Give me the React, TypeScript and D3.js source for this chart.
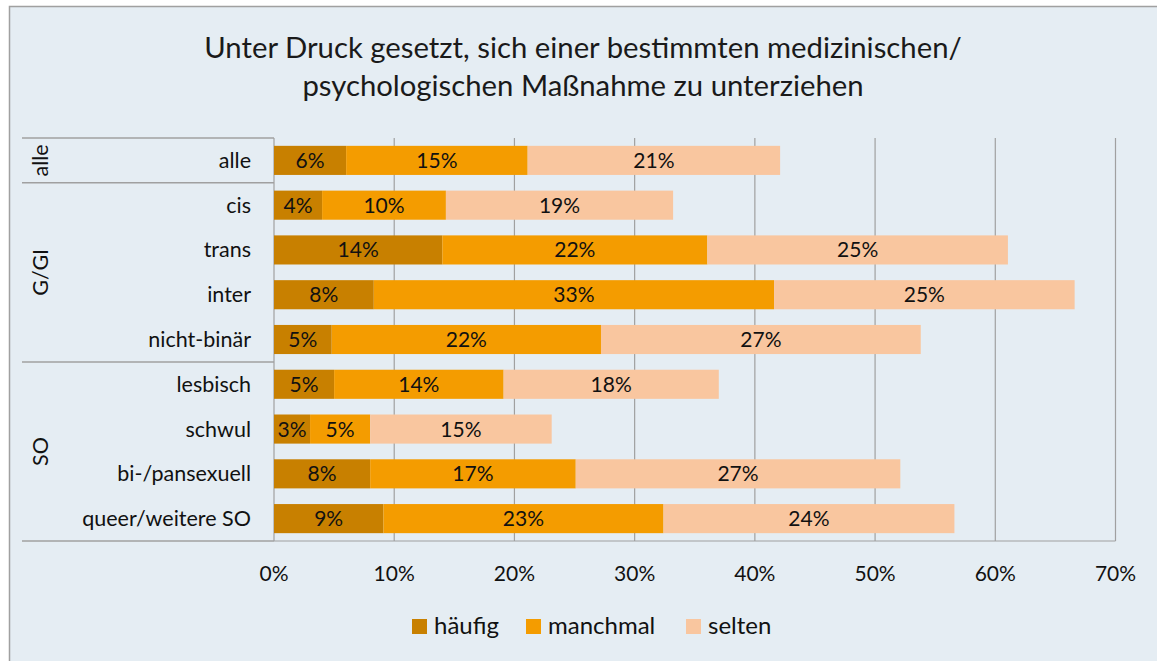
import React from "react";
import * as d3 from "d3";

const categories = ["alle", "cis", "trans", "inter", "nicht-binär", "lesbisch", "schwul", "bi-/pansexuell", "queer/weitere SO"];
const groups = [
  { name: "alle", start: 0, end: 1 },
  { name: "G/GI", start: 1, end: 5 },
  { name: "SO", start: 5, end: 9 },
];
const seriesNames = ["häufig", "manchmal", "selten"];
const haeufig = [6.0, 4.0, 14.0, 8.3, 4.8, 5.0, 3.0, 8.0, 9.1];
const manchmal = [15.1, 10.3, 22.05, 33.3, 22.4, 14.1, 5.0, 17.1, 23.3];
const selten = [21.0, 18.9, 25.0, 25.0, 26.6, 17.9, 15.1, 27.0, 24.2];
const xTicks = [0, 10, 20, 30, 40, 50, 60, 70];
const colors = ["#C88000", "#F49C00", "#F9C69F"];
const titleLines = ["Unter Druck gesetzt, sich einer bestimmten medizinischen/", "psychologischen Maßnahme zu unterziehen"];

const W = 1157, H = 661;
const FONT = "Lato, 'Open Sans', sans-serif";

export default function App() {
  const x = d3.scaleLinear().domain([0, 70]).range([274, 1115.5]);
  const y = d3.scaleBand<string>().domain(categories).range([138, 541]).paddingInner(0.35).paddingOuter(0.175);
  const rowY = d3.scaleLinear().domain([0, categories.length]).range([138, 541]);
  const series = [haeufig, manchmal, selten];
  const stack = d3.stack<number>().keys([0, 1, 2] as any).value((i: any, k: any) => series[k][i]);
  const stacked = stack(d3.range(categories.length) as any);
  const grid = "#A0A0A0";
  const legendX = [412, 526, 686];

  return (
    <div style={{ position: "absolute", left: 0, top: 0 }}>
      <svg width={W} height={H} style={{ display: "block" }} fontFamily={FONT}>
        <rect x={0} y={0} width={W} height={H} fill="#ffffff" />
        <rect x={9.5} y={6.5} width={W + 10} height={H + 10} fill="#E5EDF3" stroke="#A0A0A0" strokeWidth={1.5} />
        {titleLines.map((t, i) => (
          <text key={i} x={583} y={58 + i * 38} textAnchor="middle" fontSize={29.3} fill="#1a1a1a">{t}</text>
        ))}
        {/* grid */}
        {xTicks.map((t) => (
          <line key={t} x1={x(t)} x2={x(t)} y1={138} y2={541} stroke={grid} strokeWidth={1.2} />
        ))}
        <line x1={274} x2={1115.5} y1={541} y2={541} stroke={grid} strokeWidth={1.2} />
        {/* group separators */}
        {[0, 1, 5, 9].map((r) => (
          <line key={r} x1={22} x2={274} y1={rowY(r)} y2={rowY(r)} stroke={grid} strokeWidth={1.5} />
        ))}
        {/* bars */}
        {stacked.map((s, k) => (
          <g key={k}>
            {s.map((d, i) => {
              const x0 = x(d[0]), x1 = x(d[1]);
              const yy = y(categories[i])!;
              const v = series[k][i];
              return (
                <g key={i}>
                  <rect x={x0} y={yy} width={x1 - x0} height={y.bandwidth()} fill={colors[k]} />
                  <text x={(x0 + x1) / 2} y={yy + y.bandwidth() / 2 + 7.5} textAnchor="middle" fontSize={21} fill="#111">
                    {Math.round(v)}%
                  </text>
                </g>
              );
            })}
          </g>
        ))}
        {/* category labels */}
        {categories.map((c) => (
          <text key={c} x={251} y={y(c)! + y.bandwidth() / 2 + 7.5} textAnchor="end" fontSize={21.5} fill="#111">{c}</text>
        ))}
        {/* group labels */}
        {groups.map((g) => {
          const cy = (rowY(g.start) + rowY(g.end)) / 2;
          return (
            <text key={g.name} transform={`translate(48,${cy}) rotate(-90)`} textAnchor="middle" fontSize={21.5} fill="#111">{g.name}</text>
          );
        })}
        {/* x ticks */}
        {xTicks.map((t) => (
          <text key={t} x={x(t)} y={581} textAnchor="middle" fontSize={21} fill="#111">{t}%</text>
        ))}
        {/* legend */}
        {seriesNames.map((n, i) => (
          <g key={n}>
            <rect x={legendX[i]} y={619} width={15} height={15} fill={colors[i]} />
            <text x={legendX[i] + 22} y={634} fontSize={24} fill="#111">{n}</text>
          </g>
        ))}
      </svg>
    </div>
  );
}
